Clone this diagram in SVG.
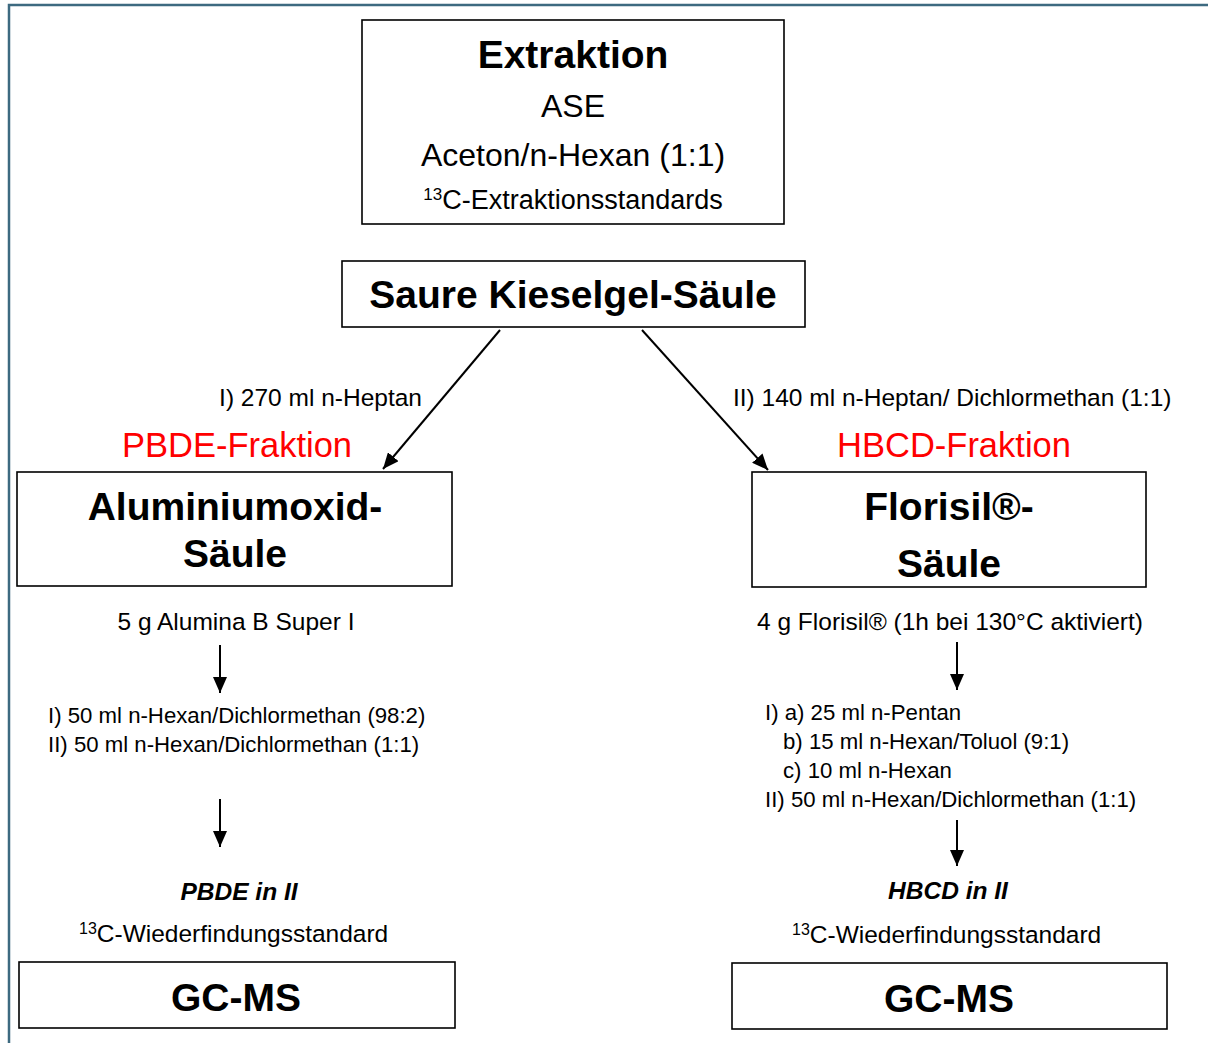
<svg xmlns="http://www.w3.org/2000/svg" width="1208" height="1043" viewBox="0 0 1208 1043">
<defs>
<style>
text{font-family:"Liberation Sans",Arial,sans-serif;fill:#000}
.box{fill:#fff;stroke:#000;stroke-width:1.6}
.b{font-weight:bold;font-size:39px;text-anchor:middle}
.m{text-anchor:middle}
.red{fill:#ff0000;font-size:34.5px;text-anchor:middle}
.lbl{font-size:24.5px}
.lst{font-size:22.2px}
.conn line{stroke:#000;stroke-width:2}
</style>
<marker id="ah" viewBox="0 0 16 14" refX="16" refY="7" markerWidth="16" markerHeight="14" markerUnits="userSpaceOnUse" orient="auto">
<path d="M0,0 L16,7 L0,14 z" fill="#000"/>
</marker>
</defs>
<rect width="1208" height="1043" fill="#fff"/>
<g id="frame" fill="none" stroke="#3d6a80" stroke-width="2.5">
<path d="M9,1043 L9,5 L1208,5"/>
</g>

<g id="extraktion">
<rect class="box" x="362" y="20" width="422" height="204"/>
<text class="b" x="573" y="68">Extraktion</text>
<text class="m" x="573" y="117" font-size="32">ASE</text>
<text class="m" x="573" y="166" font-size="32">Aceton/n-Hexan (1:1)</text>
<text class="m" x="573" y="209" font-size="27"><tspan font-size="17" dy="-9">13</tspan><tspan dy="9">C-Extraktionsstandards</tspan></text>
</g>

<g id="kieselgel">
<rect class="box" x="342" y="261" width="463" height="66"/>
<text class="b" x="573" y="308">Saure Kieselgel-Säule</text>
</g>

<g id="label-left">
<text class="lbl" x="422" y="406" text-anchor="end">I) 270 ml n-Heptan</text>
<text class="red" x="237" y="457">PBDE-Fraktion</text>
</g>
<g id="label-right">
<text class="lbl" x="733" y="406">II) 140 ml n-Heptan/ Dichlormethan (1:1)</text>
<text class="red" x="954" y="457">HBCD-Fraktion</text>
</g>

<g id="aluminiumoxid">
<rect class="box" x="17" y="472" width="435" height="114"/>
<text class="b" x="235" y="520">Aluminiumoxid-</text>
<text class="b" x="235" y="567">Säule</text>
</g>

<g id="florisil">
<rect class="box" x="752" y="472" width="394" height="115"/>
<text class="b" x="949" y="520">Florisil®-</text>
<text class="b" x="949" y="577">Säule</text>
</g>

<g id="left-steps">
<text class="lbl m" x="236" y="630">5 g Alumina B Super I</text>
<text class="lst" x="48" y="723">I) 50 ml n-Hexan/Dichlormethan (98:2)</text>
<text class="lst" x="48" y="752">II) 50 ml n-Hexan/Dichlormethan (1:1)</text>
<text class="lbl m" x="239" y="900" font-weight="bold" font-style="italic">PBDE in II</text>
<text class="lbl" x="79" y="942"><tspan font-size="16" dy="-8">13</tspan><tspan dy="8">C-Wiederfindungsstandard</tspan></text>
</g>

<g id="right-steps">
<text class="lbl" x="757" y="630">4 g Florisil® (1h bei 130°C aktiviert)</text>
<text class="lst" x="765" y="720">I) a) 25 ml n-Pentan</text>
<text class="lst" x="783" y="749">b) 15 ml n-Hexan/Toluol (9:1)</text>
<text class="lst" x="783" y="778">c) 10 ml n-Hexan</text>
<text class="lst" x="765" y="807">II) 50 ml n-Hexan/Dichlormethan (1:1)</text>
<text class="lbl m" x="948" y="899" font-weight="bold" font-style="italic">HBCD in II</text>
<text class="lbl" x="792" y="943"><tspan font-size="16" dy="-8">13</tspan><tspan dy="8">C-Wiederfindungsstandard</tspan></text>
</g>

<g id="gcms-left">
<rect class="box" x="19" y="962" width="436" height="66"/>
<text class="b" x="236" y="1011" font-size="40">GC-MS</text>
</g>
<g id="gcms-right">
<rect class="box" x="732" y="963" width="435" height="66"/>
<text class="b" x="949" y="1012">GC-MS</text>
</g>

<g id="connectors" class="conn">
<line x1="500" y1="330" x2="383" y2="469" marker-end="url(#ah)"/>
<line x1="642" y1="330" x2="768" y2="470" marker-end="url(#ah)"/>
<line x1="220" y1="645" x2="220" y2="693" marker-end="url(#ah)"/>
<line x1="220" y1="799" x2="220" y2="847" marker-end="url(#ah)"/>
<line x1="957" y1="642" x2="957" y2="690" marker-end="url(#ah)"/>
<line x1="957" y1="820" x2="957" y2="866" marker-end="url(#ah)"/>
</g>
</svg>
